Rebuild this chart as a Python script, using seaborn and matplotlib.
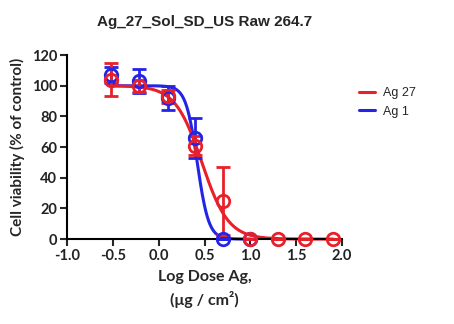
import matplotlib
matplotlib.use("Agg")
import matplotlib.pyplot as plt
import seaborn as sns
import numpy as np
import pandas as pd

# measured points (log dose, mean viability %, SD)
log_dose_ag27 = [-0.52, -0.22, 0.10, 0.40, 0.70, 1.00, 1.30, 1.60, 1.90]
mean_ag27 = [104, 100, 93, 61, 25, 0, 0, 0, 0]
sd_ag27 = [11, 4, 4, 6, 22, 0, 0, 0, 0]

log_dose_ag1 = [-0.52, -0.22, 0.10, 0.40, 0.70, 1.00]
mean_ag1 = [107, 103, 92, 66, 0, 0]
sd_ag1 = [5, 8, 8, 13, 0, 0]

# fitted dose-response parameters (top, bottom, logIC50, hill slope)
fit_ag27 = (100, 0, 0.47, 3.0)
fit_ag1 = (100, 0, 0.42, 7.0)

red = "#e8202a"
blue = "#2424e6"

sns.set_style("ticks")
plt.rcParams["font.family"] = ["Liberation Sans", "DejaVu Sans"]
label_font = ["Lato", "DejaVu Sans"]

fig = plt.figure(figsize=(4.54, 3.24), dpi=100)
ax = fig.add_axes([0.1476, 0.262, 0.606, 0.568])


def curve(xs, params):
    top, bottom, c, h = params
    xx = np.linspace(min(xs), max(xs), 300)
    yy = bottom + (top - bottom) / (1 + 10 ** ((xx - c) * h))
    return pd.DataFrame({"x": xx, "y": yy})


for xs, ys, sds, params, col, name in [
    (log_dose_ag1, mean_ag1, sd_ag1, fit_ag1, blue, "Ag 1"),
    (log_dose_ag27, mean_ag27, sd_ag27, fit_ag27, red, "Ag 27"),
]:
    df = curve(xs, params)
    sns.lineplot(data=df, x="x", y="y", color=col, lw=2.2, ax=ax, label=name, clip_on=False)
    ax.errorbar(xs, ys, yerr=sds, fmt="o", ms=9, mfc="none", mec=col, mew=2,
                ecolor=col, elinewidth=2, capsize=5, capthick=2, clip_on=False, zorder=3)

ax.set_xlim(-1.0, 2.0)
ax.set_ylim(0, 120)
ax.set_xticks(np.arange(-1.0, 2.01, 0.5))
ax.set_yticks(range(0, 121, 20))
ax.set_xticklabels([f"{v:.1f}" for v in np.arange(-1.0, 2.01, 0.5)])
for s in ["top", "right"]:
    ax.spines[s].set_visible(False)
for s in ["left", "bottom"]:
    ax.spines[s].set_linewidth(1.5)
    ax.spines[s].set_color("black")
ax.tick_params(axis="both", direction="out", length=5, width=1.5, labelsize=10.5, pad=2)
for t in ax.get_xticklabels() + ax.get_yticklabels():
    t.set_fontweight("bold")
    t.set_family(label_font)
    t.set_color("#222222")

ax.set_title("Ag_27_Sol_SD_US Raw 264.7", fontsize=11, fontweight="bold", pad=21)
ax.set_ylabel("Cell viability (% of control)", fontsize=11, fontweight="bold", labelpad=5,
              family=label_font)
ax.set_xlabel("Log Dose Ag,\n(\u03bcg / cm\u00b2)", fontsize=11.5, fontweight="bold", labelpad=5,
              linespacing=1.5, family=label_font)

handles, labels = ax.get_legend_handles_labels()
ax.legend(handles[::-1], labels[::-1], loc="upper left", bbox_to_anchor=(1.02, 0.885),
          frameon=False, fontsize=9, handlelength=1.3, handletextpad=0.6, labelspacing=0.5)

fig.savefig("out.png", dpi=100)
